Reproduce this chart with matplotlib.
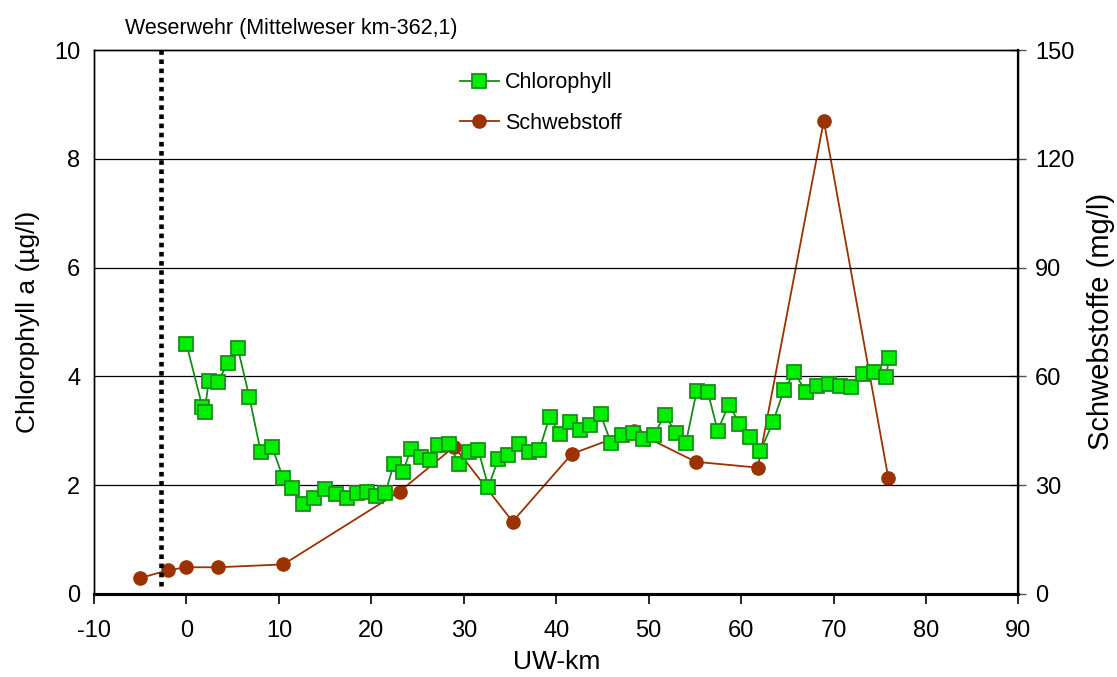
import matplotlib
matplotlib.use("Agg")
import matplotlib.pyplot as plt
from matplotlib.ticker import MultipleLocator

plt.rcParams['font.family'] = ['Liberation Sans', 'DejaVu Sans']
plt.rcParams['axes.unicode_minus'] = False

# Chlorophyll a (µg/l) vs UW-km
chl_km = [0.0, 1.73, 1.95, 2.41, 3.42, 4.47, 5.55, 6.81, 8.04, 9.26, 10.45, 11.46,
          12.61, 13.8, 14.99, 16.18, 17.33, 18.41, 19.5, 20.54, 21.51, 22.41, 23.38,
          24.3, 25.37, 26.3, 27.24, 28.36, 29.48, 30.52, 31.57, 32.65, 33.73, 34.81,
          35.93, 37.05, 38.16, 39.28, 40.36, 41.48, 42.59, 43.68, 44.79, 45.91, 47.1,
          48.25, 49.41, 50.56, 51.75, 52.94, 54.03, 55.18, 56.4, 57.46, 58.67, 59.82,
          60.97, 62.09, 63.43, 64.61, 65.77, 67.0, 68.22, 69.48, 70.7, 71.89, 73.15,
          74.41, 75.64, 76.03]
chl_val = [4.59, 3.43, 3.35, 3.91, 3.90, 4.25, 4.52, 3.61, 2.60, 2.70, 2.13, 1.94,
           1.65, 1.77, 1.93, 1.83, 1.76, 1.85, 1.87, 1.79, 1.85, 2.38, 2.23,
           2.67, 2.52, 2.46, 2.74, 2.76, 2.39, 2.61, 2.64, 1.97, 2.47, 2.56,
           2.76, 2.60, 2.64, 3.26, 2.94, 3.16, 3.01, 3.10, 3.30, 2.78, 2.92,
           2.95, 2.85, 2.92, 3.29, 2.96, 2.78, 3.72, 3.71, 3.00, 3.48, 3.13,
           2.88, 2.63, 3.15, 3.74, 4.07, 3.71, 3.83, 3.86, 3.82, 3.81, 4.04,
           4.08, 3.98, 4.34]

# Schwebstoffe (mg/l)
ss_km = [-5.05, -1.98, 0.0, 3.39, 10.49, 23.06, 28.97, 35.28, 41.7, 48.36, 55.1,
         61.8, 68.94, 75.93]
ss_val = [4.3, 6.5, 7.3, 7.3, 8.1, 28.2, 40.6, 19.9, 38.6, 44.9, 36.4, 34.8, 130.5, 31.8]

weir_km = -2.74

fig = plt.figure(figsize=(11.17, 6.77), dpi=100)
ax = fig.add_axes([0.0842, 0.123, 0.8276, 0.803])
ax2 = ax.twinx()

green_line = '#1a8a1a'
brown = '#9a3300'

for y in [2, 4, 6, 8]:
    ax.axhline(y, color='black', lw=0.9, zorder=0)

ax.plot([weir_km, weir_km], [0.15, 10], color='black', lw=3.3, ls=(0, (1, 1)),
        solid_capstyle='butt', dash_capstyle='butt', zorder=1)

l1, = ax.plot(chl_km, chl_val, color=green_line, lw=1.3, marker='s', markersize=9.5,
              markerfacecolor='#00ee00', markeredgecolor='#169016', markeredgewidth=1.3,
              zorder=3, label='Chlorophyll')
l2, = ax2.plot(ss_km, ss_val, color=brown, lw=1.3, marker='o', markersize=9.5,
               markerfacecolor=brown, markeredgecolor=brown, zorder=2,
               label='Schwebstoff')

ax.set_zorder(ax2.get_zorder() + 1)
ax.patch.set_visible(False)

ax.set_xlim(-10, 90)
ax.set_ylim(0, 10)
ax2.set_ylim(0, 150)
ax.xaxis.set_major_locator(MultipleLocator(10))
ax.yaxis.set_major_locator(MultipleLocator(2))
ax2.yaxis.set_major_locator(MultipleLocator(30))

ax.tick_params(axis='x', direction='out', length=7, width=1.2, labelsize=17, pad=12)
ax.tick_params(axis='y', length=0, labelsize=17, pad=10)
ax2.tick_params(axis='y', direction='inout', length=12, width=1.0, labelsize=17, pad=6,
                color='#555555')

for a in (ax, ax2):
    for s in a.spines.values():
        s.set_linewidth(1.0)
ax.spines['bottom'].set_linewidth(2.2)
ax2.spines['bottom'].set_linewidth(2.2)
ax2.spines['right'].set_linewidth(1.6)

ax.set_xlabel('UW-km', fontsize=19, labelpad=6)
ax.set_ylabel('Chlorophyll a (µg/l)', fontsize=19, labelpad=10)
ax2.set_ylabel('Schwebstoffe (mg/l)', fontsize=21, labelpad=9)

fig.text(0.112, 0.958, 'Weserwehr (Mittelweser km-362,1)', fontsize=15.5, ha='left',
         va='center')

ax.legend([l1, l2], ['Chlorophyll', 'Schwebstoff'], loc='upper left',
          bbox_to_anchor=(0.375, 0.995), frameon=False, fontsize=15.5, handlelength=1.8,
          labelspacing=0.9, handletextpad=0.3)

fig.savefig('out.png', dpi=100)
